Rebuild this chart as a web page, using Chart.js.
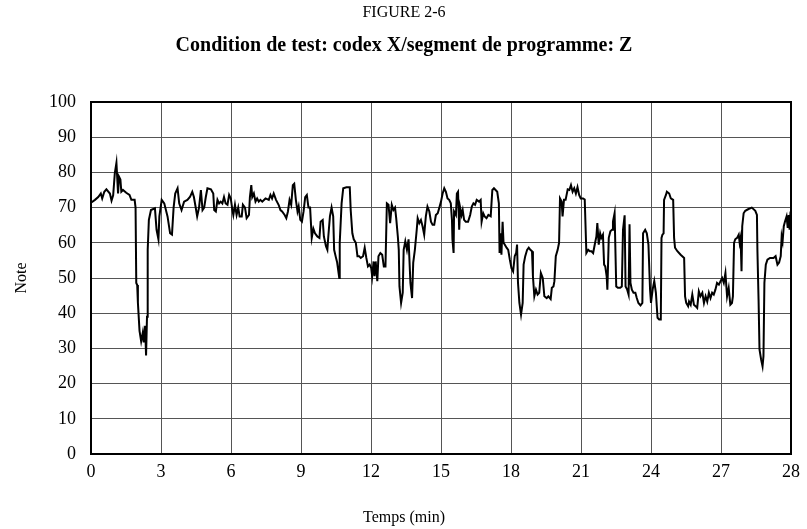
<!DOCTYPE html>
<html>
<head>
<meta charset="utf-8">
<script src="https://cdn.jsdelivr.net/npm/chart.js@4.4.1/dist/chart.umd.min.js"></script>
<style>
  html, body { margin: 0; padding: 0; background: #fff; }
  #wrap { width: 807px; height: 529px; }
</style>
</head>
<body>
<div id="wrap"><canvas id="chart" width="807" height="529"></canvas></div>
<script>
// values
const times = [
  0.00, 0.17, 0.31, 0.42, 0.48, 0.57, 0.66, 0.81, 0.88, 0.95, 1.02, 1.09, 1.16, 1.20, 1.26, 1.30, 1.37, 1.51, 1.65, 1.73,
  1.87, 1.91, 1.94, 1.98, 2.01, 2.08, 2.15, 2.22, 2.26, 2.32, 2.36, 2.40, 2.43, 2.48, 2.57, 2.74, 2.81, 2.89, 2.93, 3.03,
  3.14, 3.28, 3.39, 3.47, 3.54, 3.61, 3.71, 3.78, 3.88, 3.99, 4.13, 4.24, 4.34, 4.41, 4.48, 4.55, 4.63,
  4.71, 4.78, 4.85, 4.92, 4.99, 5.14, 5.24, 5.28, 5.35, 5.42, 5.49, 5.56, 5.63, 5.70, 5.77, 5.85, 5.92, 5.99, 6.06, 6.10,
  6.17, 6.24, 6.31, 6.37, 6.46, 6.51, 6.60, 6.67, 6.77, 6.81, 6.87, 6.91, 6.98, 7.05, 7.12, 7.19, 7.26, 7.34, 7.48, 7.62,
  7.69, 7.76, 7.83, 7.93, 8.04, 8.12, 8.19, 8.30, 8.37, 8.44, 8.51, 8.58, 8.65, 8.71, 8.78, 8.85, 8.90, 8.97, 9.04, 9.11,
  9.18, 9.25, 9.32, 9.39, 9.46,
  9.53, 9.60, 9.70, 9.79, 9.84, 9.93, 9.98, 10.07, 10.13, 10.17, 10.24, 10.31, 10.38, 10.42, 10.49, 10.55, 10.64, 10.66,
  10.74, 10.81, 10.95, 11.09, 11.13, 11.20, 11.26, 11.35, 11.42, 11.49, 11.56, 11.66, 11.73, 11.80, 11.87, 11.94, 12.01,
  12.05, 12.11, 12.15, 12.20, 12.27, 12.32, 12.40, 12.48, 12.55, 12.62, 12.68, 12.75, 12.82, 12.89, 12.96, 13.03, 13.08,
  13.15, 13.19, 13.22, 13.29, 13.36, 13.40, 13.47, 13.54, 13.61, 13.69, 13.76, 13.81, 13.88, 13.96, 14.00, 14.07, 14.14,
  14.21, 14.28, 14.35, 14.42,
  14.50, 14.57, 14.64, 14.71, 14.78, 14.86, 14.93, 15.00, 15.07, 15.14, 15.21, 15.28, 15.35, 15.42, 15.47, 15.49, 15.54,
  15.56, 15.64, 15.68, 15.73, 15.78, 15.82, 15.88, 15.93, 15.99, 16.06, 16.16, 16.25, 16.32, 16.39, 16.46, 16.53, 16.63,
  16.70, 16.74, 16.81, 16.87, 16.95, 17.03, 17.13, 17.20, 17.27, 17.41, 17.48, 17.51, 17.55, 17.59, 17.64, 17.68, 17.73,
  17.81, 17.88, 17.95, 18.02, 18.09, 18.16, 18.22, 18.26, 18.30, 18.36, 18.43, 18.50, 18.54, 18.61, 18.69, 18.76, 18.83,
  18.90, 18.94, 19.00, 19.07, 19.14, 19.21, 19.28,
  19.36, 19.43, 19.53, 19.60, 19.70, 19.75, 19.82, 19.86, 19.92, 20.00, 20.06, 20.10, 20.17, 20.21, 20.27, 20.34, 20.43,
  20.50, 20.57, 20.64, 20.71, 20.78, 20.85, 20.92, 20.99, 21.09, 21.16, 21.23, 21.31, 21.38, 21.45, 21.52, 21.59, 21.66,
  21.70, 21.76, 21.82, 21.87, 21.94, 21.99, 22.04, 22.10, 22.13, 22.19, 22.26, 22.33, 22.37, 22.44, 22.51, 22.58, 22.68,
  22.75, 22.80, 22.87, 22.91, 22.98, 23.04, 23.08, 23.12, 23.18, 23.25, 23.33, 23.39, 23.46, 23.55, 23.63, 23.66, 23.75,
  23.82, 23.89, 23.96, 24.00, 24.07, 24.14, 24.21,
  24.28, 24.35, 24.42, 24.45, 24.49, 24.54, 24.56, 24.64, 24.68, 24.78, 24.85, 24.95, 24.99, 25.03, 25.13, 25.27, 25.42,
  25.46, 25.51, 25.59, 25.63, 25.70, 25.77, 25.84, 25.91, 25.98, 26.05, 26.12, 26.20, 26.27, 26.34, 26.41, 26.48, 26.55,
  26.62, 26.69, 26.76, 26.83, 26.91, 26.98, 27.05, 27.12, 27.19, 27.26, 27.33, 27.40, 27.47, 27.51, 27.56, 27.61, 27.69,
  27.76, 27.80, 27.84, 27.88, 27.91, 27.97, 28.04, 28.18, 28.32, 28.47, 28.54, 28.56, 28.61, 28.65, 28.72, 28.78, 28.82,
  28.86, 28.92, 28.99, 29.10, 29.25, 29.34, 29.42, 29.49, 29.56, 29.60, 29.64, 29.69, 29.74, 29.81, 29.86, 29.90, 29.94,
  29.98
];
const notes = [
  71.4, 72.2, 73, 74, 72.6, 74.5, 75.2, 74, 72, 73.5, 79.7, 82.7, 74, 78.8, 78, 74.5, 75, 74.2, 73.6, 72.2,
  72.2, 70, 48.6, 48, 43, 35, 32, 34.5, 31.7, 36.4, 28, 39, 58, 66.5, 69.3, 69.8, 63.7, 61, 67.5, 72.2,
  71.2, 67.5, 62.7, 62.3, 70, 74, 75.5, 71.2, 69.3, 71.7, 72.2, 73, 74.5, 73, 70.3, 67.5, 70,
  75, 69.3, 70, 73, 75.5, 75.2, 74, 69.3, 68.9, 72.2, 71.2, 71.7, 71.2, 73, 71.2, 70.8, 73.6, 72.6, 69.3, 67.9,
  70.8, 67.9, 70, 67.5, 67.5, 70.8, 70, 67, 67.9, 73, 76.4, 73, 74, 71.7, 72.6, 71.7, 72.2, 71.7, 72.6, 72.2,
  73.6, 72.6, 74, 72.2, 70.8, 69.3, 68.9, 67.9, 67, 68.9, 72.2, 70.8, 76.4, 76.8, 72.2, 68.9, 70.3, 66.5, 66, 68.9,
  73, 73.6, 70, 70, 61.4,
  64, 62.7, 61.8, 61.4, 66, 66.5, 61.8, 59, 58, 61.8, 67.5, 70, 67.5, 58, 56, 54.4, 50, 60,
  71.2, 75.5, 75.8, 75.8, 69.3, 62.7, 61, 60, 56.2, 56.2, 55.7, 56.2, 58.6, 55.7, 53.3, 53.8, 52.8,
  50.5, 54.7, 50.5, 54.7, 49.1, 56.2, 57.1, 56.6, 53.3, 53.3, 71.2, 70.8, 65.6, 70.8, 69.3, 70, 67,
  61.8, 58, 47.6, 42.9, 45.8, 58, 60.4, 58, 61, 48.6, 44.3, 54.4, 58, 63.7, 67, 65.6, 66.5,
  64.7, 62.3, 67.5, 70.3,
  68.9, 66, 65.1, 65.1, 67.9, 68.4, 70, 71.7, 74, 75.5, 74.5, 72.6, 72.2, 71.2, 66.5, 61, 57.1,
  68.9, 67.9, 74, 74.5, 63.7, 70, 67.9, 69.3, 66.5, 66, 66, 67.9, 70.3, 71.2, 70.8, 72.2, 71.7,
  72.2, 66, 68.4, 67.5, 67, 67.9, 67.5, 75, 75.5, 74.5, 71.2, 57.1, 62.7, 56.6, 66, 60, 59.5,
  58.6, 58, 55.2, 52.8, 51.9, 56.2, 57.1, 59.5, 48.6, 42.9, 39.6, 42.9, 53.8, 56.2, 58, 58.6, 58,
  57.6, 50.5, 44.8, 46.7, 45.3, 45.8, 51.4,
  50, 44.8, 44.3, 44.8, 44, 47.2, 47.6, 49.1, 56.2, 58, 60, 72.6, 71.7, 67.5, 72.2, 72.2, 75.2,
  75, 76.4, 74.5, 75.5, 74, 75.8, 73.6, 72.6, 72.6, 72.3, 57.1, 58, 57.6, 57.6, 57.1, 59.5, 61.8,
  65.6, 59.5, 62.7, 61.4, 62.3, 53.8, 53.3, 50.5, 46.7, 61.4, 63.3, 63.7, 66, 68.4, 47.6, 47.2, 47.2,
  47.6, 63.7, 67.8, 47.6, 46.7, 45.3, 65.3, 48.6, 46.7, 45.8, 45.8, 44.3, 42.9, 42.2, 42.9, 62.7, 63.7,
  62.7, 59.5, 46.7, 42.9, 46.7, 49.1, 45.8,
  38.7, 38.2, 38.2, 61.4, 62.3, 62.7, 72.2, 73.6, 74.5, 74, 72.6, 72.2, 61.4, 58.6, 57.6, 56.6, 55.7,
  44.8, 42.9, 42, 43.3, 42.4, 45.3, 42.4, 42, 41.5, 46.2, 44.8, 45.8, 42.9, 44.8, 43.3, 45.8, 44.3,
  45.8, 45.3, 46.7, 48.6, 48.1, 49.1, 50, 48.6, 51.4, 44.8, 47.2, 42.4, 42.9, 44.8, 60, 61, 61.4,
  62.3, 60, 61.4, 51.9, 64.7, 68.4, 69.1, 69.6, 70, 69.1, 67.9, 58, 43.8, 29.7, 26.8, 24.9, 27.8,
  48.6, 53.8, 55.2, 55.7, 55.7, 56.2, 53.8, 54.4, 56.2, 61.8, 60.4, 64.7, 66, 67.5, 64.2, 67.9, 63.7,
  68.9
];
const xTickLabels = ['0', '3', '6', '9', '12', '15', '18', '21', '24', '27', '28'];
const yTicks = [0, 10, 20, 30, 40, 50, 60, 70, 80, 90, 100];

const figureTitle = 'FIGURE 2-6';
const figureSubtitle = 'Condition de test: codex X/segment de programme: Z';
const xTitle = 'Temps (min)';
const yTitle = 'Note';

const serif = '"Liberation Serif", "Times New Roman", serif';

// titles, axis titles and the black frame round the plot
const textAndFrame = {
    id: 'textAndFrame',
    afterDraw(chart) {
        const ctx = chart.ctx;
        const a = chart.chartArea;
        ctx.save();
        ctx.strokeStyle = '#000';
        ctx.lineWidth = 2;
        ctx.strokeRect(a.left, a.top, a.right - a.left, a.bottom - a.top);

        ctx.fillStyle = '#000';
        ctx.textAlign = 'center';
        ctx.textBaseline = 'middle';
        ctx.font = '16px ' + serif;
        ctx.fillText(figureTitle, 404, 13);
        ctx.font = 'bold 20px ' + serif;
        ctx.fillText(figureSubtitle, 404, 46);

        ctx.font = '16px ' + serif;
        ctx.fillText(xTitle, 404, 518);

        ctx.translate(22, (a.top + a.bottom) / 2);
        ctx.rotate(-Math.PI / 2);
        ctx.fillText(yTitle, 0, 0);
        ctx.restore();
    }
};

new Chart(document.getElementById('chart'), {
    type: 'line',
    data: {
        datasets: [{
            data: times.map((t, i) => ({ x: t, y: notes[i] })),
            borderColor: '#000',
            borderWidth: 2,
            pointRadius: 0,
            tension: 0,
            fill: false
        }]
    },
    options: {
        responsive: false,
        animation: false,
        layout: { padding: { top: 102, right: 11, left: 0, bottom: 0 } },
        plugins: {
            legend: { display: false },
            tooltip: { enabled: false },
            title: { display: false }
        },
        scales: {
            x: {
                type: 'linear',
                min: 0,
                max: 30,
                afterBuildTicks(scale) {
                    scale.ticks = xTickLabels.map((l, i) => ({ value: i * 3 }));
                },
                afterFit(scale) { scale.height = 75; },
                ticks: {
                    color: '#000',
                    font: { family: serif, size: 18 },
                    padding: 7,
                    maxRotation: 0,
                    autoSkip: false,
                    callback: (v, i) => xTickLabels[i]
                },
                grid: { color: '#555', lineWidth: 1, drawTicks: false },
                border: { display: false }
            },
            y: {
                min: 0,
                max: 100,
                afterBuildTicks(scale) {
                    scale.ticks = yTicks.map(v => ({ value: v }));
                },
                afterFit(scale) { scale.width = 91; },
                ticks: {
                    color: '#000',
                    font: { family: serif, size: 18 },
                    padding: 15,
                    autoSkip: false
                },
                grid: { color: '#555', lineWidth: 1, drawTicks: false },
                border: { display: false }
            }
        }
    },
    plugins: [textAndFrame]
});
</script>
</body>
</html>
